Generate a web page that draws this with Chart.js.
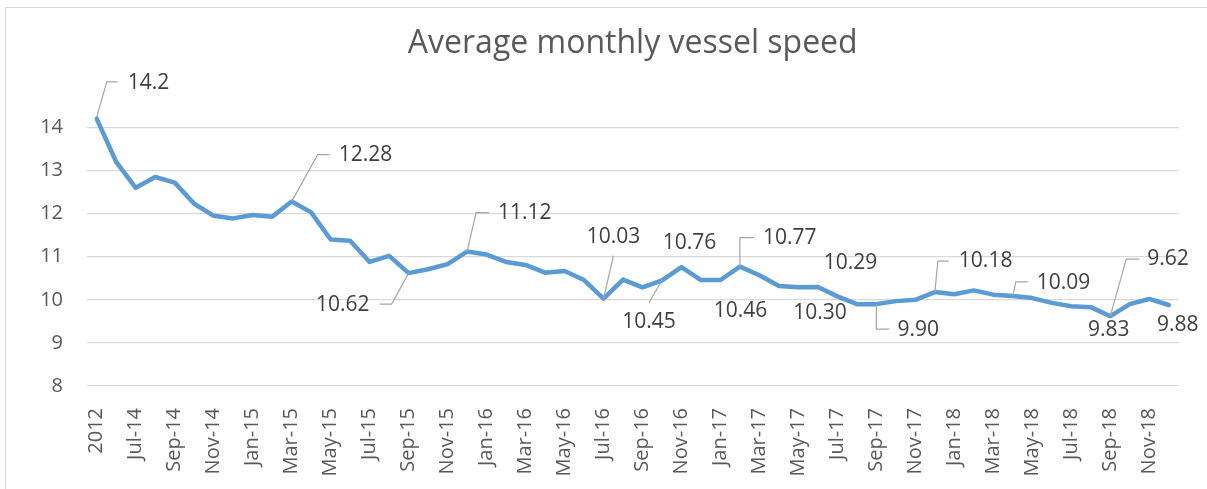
<!DOCTYPE html>
<html>
<head>
<meta charset="utf-8">
<script src="https://cdn.jsdelivr.net/npm/chart.js@4.4.1/dist/chart.umd.min.js"></script>
<style>
html,body{margin:0;padding:0;background:#fff;overflow:hidden}
#frame{position:absolute;left:5px;top:7px;width:1230px;height:500px;border:1px solid #d9d9d9;box-sizing:border-box}
#speed{position:absolute;left:0;top:0}
</style>
</head>
<body>
<div id="frame"></div>
<canvas id="speed" width="1207" height="489"></canvas>
<script>
// data
const months = ['2012','Jun-14','Jul-14','Aug-14','Sep-14','Oct-14','Nov-14','Dec-14',
  'Jan-15','Feb-15','Mar-15','Apr-15','May-15','Jun-15','Jul-15','Aug-15','Sep-15','Oct-15','Nov-15','Dec-15',
  'Jan-16','Feb-16','Mar-16','Apr-16','May-16','Jun-16','Jul-16','Aug-16','Sep-16','Oct-16','Nov-16','Dec-16',
  'Jan-17','Feb-17','Mar-17','Apr-17','May-17','Jun-17','Jul-17','Aug-17','Sep-17','Oct-17','Nov-17','Dec-17',
  'Jan-18','Feb-18','Mar-18','Apr-18','May-18','Jun-18','Jul-18','Aug-18','Sep-18','Oct-18','Nov-18','Dec-18']

const speed = [14.2,13.2,12.6,12.85,12.72,12.23,11.95,11.89,
  11.97,11.93,12.28,12.03,11.40,11.37,10.88,11.02,10.62,10.71,10.83,11.12,
  11.05,10.88,10.81,10.63,10.67,10.46,10.03,10.47,10.29,10.45,10.76,10.46,
  10.46,10.77,10.57,10.32,10.29,10.30,10.08,9.90,9.90,9.97,10.00,10.18,
  10.13,10.22,10.12,10.09,10.04,9.93,9.85,9.83,9.62,9.90,10.02,9.88]

const yTicks = [8,9,10,11,12,13,14]

// which points get a value label, and where it sits relative to the point
const labelSpots = [
  {i:0,  dx:31,  dy:-36, align:'left',   digits:1, leader:[[0,-2],[10,-37],[21,-37]]},
  {i:10, dx:47,  dy:-47, align:'left',   digits:2, leader:[[0,0],[26,-47],[38,-47]]},
  {i:16, dx:-39, dy:32,  align:'right',  digits:2, leader:[[0,0],[-17,31],[-29,31]]},
  {i:19, dx:31,  dy:-39, align:'left',   digits:2, leader:[[0,0],[9,-39],[22,-39]]},
  {i:26, dx:10,  dy:-62, align:'center', digits:2, leader:[[0,0],[10,-43]]},
  {i:29, dx:-13, dy:42,  align:'center', digits:2, leader:[[0,0],[-13,22]]},
  {i:30, dx:8,   dy:-24, align:'center', digits:2},
  {i:32, dx:20,  dy:31,  align:'center', digits:2},
  {i:33, dx:23,  dy:-29, align:'left',   digits:2, leader:[[0,0],[0,-29],[14,-29]]},
  {i:36, dx:52,  dy:-24, align:'center', digits:2},
  {i:37, dx:2,   dy:26,  align:'center', digits:2},
  {i:40, dx:21,  dy:26,  align:'left',   digits:2, leader:[[0,0],[0,25],[13,25]]},
  {i:43, dx:24,  dy:-31, align:'left',   digits:2, leader:[[0,0],[3,-31],[14,-31]]},
  {i:47, dx:24,  dy:-13, align:'left',   digits:2, leader:[[0,0],[3,-14],[15,-14]]},
  {i:51, dx:18,  dy:23,  align:'center', digits:2},
  {i:52, dx:37,  dy:-57, align:'left',   digits:2, leader:[[0,0],[16,-57],[29,-57]]},
  {i:55, dx:9,   dy:20,  align:'center', digits:2}
]

const pointLabels = {
  id: 'pointLabels',
  afterDatasetsDraw(chart){
    const ctx = chart.ctx
    const pts = chart.getDatasetMeta(0).data
    ctx.save()
    ctx.font = '21px "Open Sans"'
    ctx.textBaseline = 'middle'
    labelSpots.forEach(s=>{
      const p = pts[s.i]
      if(s.leader){
        ctx.strokeStyle = '#a6a6a6'
        ctx.lineWidth = 1.2
        ctx.beginPath()
        s.leader.forEach(([dx,dy],k)=> k ? ctx.lineTo(p.x+dx,p.y+dy) : ctx.moveTo(p.x+dx,p.y+dy))
        ctx.stroke()
      }
      ctx.fillStyle = '#404040'
      ctx.textAlign = s.align
      ctx.fillText(speed[s.i].toFixed(s.digits), p.x+s.dx, p.y+s.dy)
    })
    ctx.restore()
  }
}

const tickFont = {family:'"Open Sans"', size:20}

new Chart(document.getElementById('speed'), {
  type: 'line',
  data: {
    labels: months,
    datasets: [{
      label: 'Average speed',
      data: speed,
      borderColor: '#5b9bd5',
      borderWidth: 4.5,
      borderJoinStyle: 'round',
      borderCapStyle: 'round',
      pointRadius: 0,
      tension: 0,
      fill: false
    }]
  },
  options: {
    responsive: false,
    animation: false,
    devicePixelRatio: 1,
    layout: {padding: {left:0, right:28, top:0, bottom:0}},
    plugins: {
      legend: {display:false},
      tooltip: {enabled:false},
      title: {
        display: true,
        text: 'Average monthly vessel speed',
        fullSize: false,
        color: '#595959',
        font: {family:'"Open Sans"', size:32, weight:'normal'},
        padding: {top:25, bottom:21}
      }
    },
    scales: {
      x: {
        offset: true,
        grid: {display:false},
        border: {display:false},
        ticks: {
          autoSkip: false,
          maxRotation: 90,
          minRotation: 90,
          padding: 14,
          color: '#595959',
          font: tickFont,
          callback: (v, i) => i % 2 === 0 ? months[i] : ''
        },
        afterFit: s => { s.height = 103 }
      },
      y: {
        min: 8,
        max: 15,
        border: {display:false},
        grid: {
          drawTicks: false,
          lineWidth: 1.3,
          color: c => yTicks.includes(c.tick.value) ? '#d9d9d9' : 'rgba(0,0,0,0)'
        },
        ticks: {
          stepSize: 1,
          padding: 24,
          color: '#595959',
          font: tickFont,
          callback: v => yTicks.includes(v) ? v : ''
        },
        afterFit: s => { s.width = 87 }
      }
    }
  },
  plugins: [pointLabels]
})
</script>
</body>
</html>
